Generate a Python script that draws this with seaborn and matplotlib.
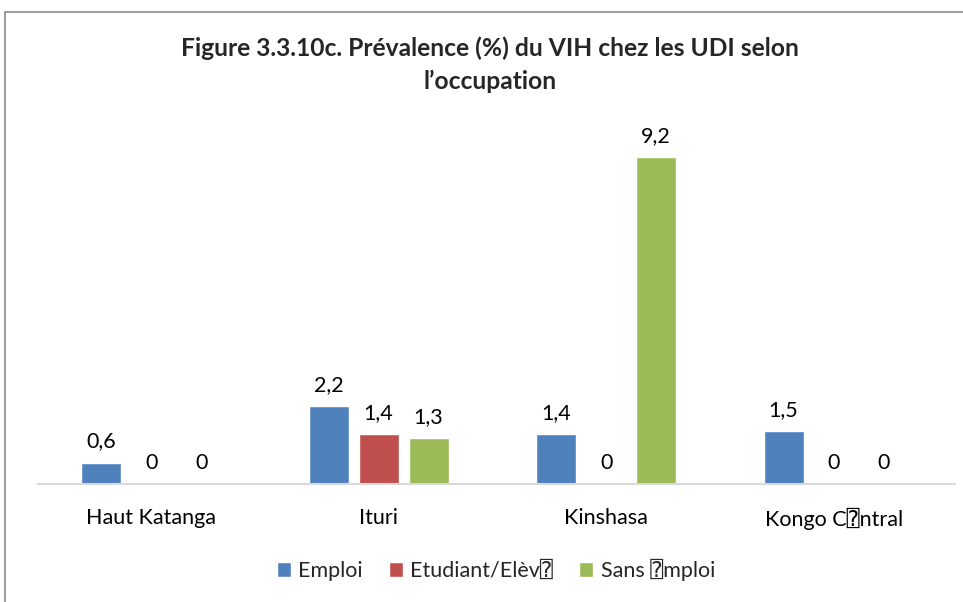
import matplotlib
matplotlib.use("Agg")
import matplotlib.pyplot as plt
import seaborn as sns
import pandas as pd
from matplotlib.patches import Rectangle

regions = ["Haut Katanga", "Ituri", "Kinshasa", "Kongo C\u2370ntral"]
series = ["Emploi", "Etudiant/Elèv\u2370", "Sans \u2370mploi"]
emploi = [0.6, 2.2, 1.4, 1.5]
etudiant = [0, 1.4, 0, 0]
sans_emploi = [0, 1.3, 9.2, 0]
colors = ["#4F81BD", "#C0504D", "#9BBB59"]
title = "Figure 3.3.10c. Prévalence (%) du VIH chez les UDI selon\nl\u2019occupation"

rows = []
for name, vals in zip(series, [emploi, etudiant, sans_emploi]):
    for r, v in zip(regions, vals):
        rows.append({"Région": r, "Occupation": name, "Valeur": v})
df = pd.DataFrame(rows)

sns.set_theme(style="white")
plt.rcParams["font.family"] = ["Lato", "DejaVu Sans", "DejaVu Sans Mono", "Noto Sans"]

fig = plt.figure(figsize=(9.63, 6.02), dpi=100)
ax = fig.add_axes([0.039, 0.196, 0.953, 0.59])

sns.barplot(data=df, x="Région", y="Valeur", hue="Occupation", order=regions,
            hue_order=series, palette=colors, width=0.66, gap=0.2,
            saturation=1, ax=ax, legend=True)

for cont in ax.containers:
    labels = [("%g" % v).replace(".", ",") for v in cont.datavalues]
    ax.bar_label(cont, labels=labels, padding=8, fontsize=15.5, color="#000000")

ax.set_ylim(0, 10)
ax.set_xlim(-0.499, 3.535)
ax.set_yticks([])
ax.set_xlabel("")
ax.set_ylabel("")
for s in ["top", "right", "left"]:
    ax.spines[s].set_visible(False)
ax.spines["bottom"].set_color("#d9d9d9")
ax.spines["bottom"].set_linewidth(1.5)
ax.tick_params(axis="x", length=0, pad=17.5, labelsize=15.5, labelcolor="#000000")

leg = ax.legend(loc="center", bbox_to_anchor=(0.515, 0.053), bbox_transform=fig.transFigure,
                ncol=3, frameon=False, fontsize=15.5, handlelength=0.65, handleheight=0.65,
                handletextpad=0.35, columnspacing=1.2)

fig.text(0.509, 0.892, title, ha="center", va="center", fontsize=17.7,
         fontweight="bold", linespacing=1.5)

fig.patches.append(Rectangle((5 / 963, -0.1), 1.2, 1 - 12 / 602 + 0.1, transform=fig.transFigure,
                             fill=False, edgecolor="#8c8c8c", linewidth=1.2, clip_on=False))

fig.savefig("out.png", dpi=100)
